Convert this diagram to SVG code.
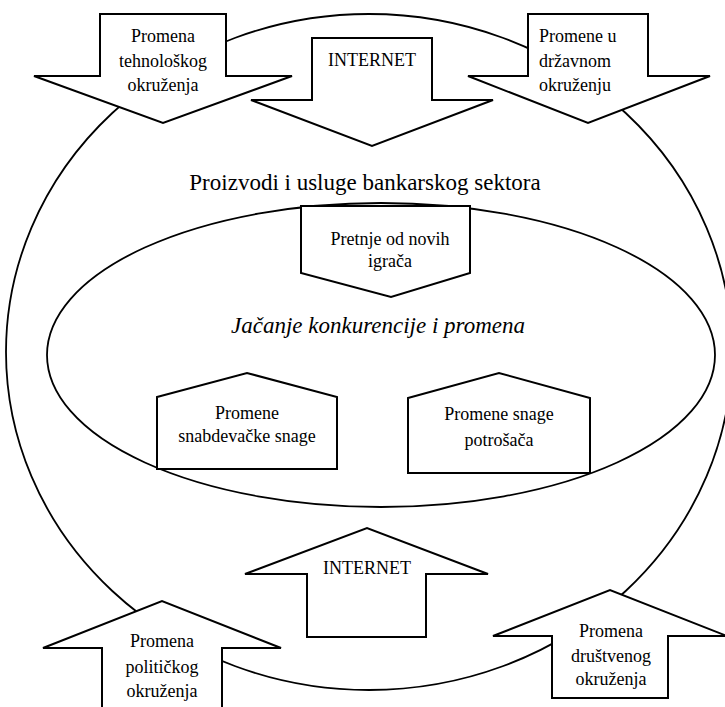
<svg xmlns="http://www.w3.org/2000/svg" width="725" height="707" viewBox="0 0 725 707" font-family="'Liberation Serif', 'Times New Roman', Times, serif">
<style>
.sh{fill:#fff;stroke:#000;stroke-width:2;stroke-linejoin:miter}
.el{fill:none;stroke:#000;stroke-width:1.8}
text{font-family:'Liberation Serif','Times New Roman',Times,serif;font-size:18px;fill:#000}
.c{text-anchor:middle}
.big{font-size:23px}
</style>
<rect width="725" height="707" fill="#fff"/>
<g id="connectors">
<ellipse id="outer" class="el" cx="369" cy="352" rx="363" ry="338"/>
<ellipse id="inner" class="el" cx="381" cy="355" rx="334" ry="152"/>
</g>
<text class="c big" x="365" y="190">Proizvodi i usluge bankarskog sektora</text>
<text class="c big" x="378" y="333" font-style="italic">Jačanje konkurencije i promena</text>
<g id="tehno">
<polygon class="sh" points="100,14 226,14 226,76 292,76 163,123 34,76 100,76"/>
<text class="c" x="163" y="42">Promena</text>
<text class="c" x="163" y="67">tehnološkog</text>
<text class="c" x="163" y="91">okruženja</text>
</g>
<g id="internet-top">
<polygon class="sh" points="312,38 432,38 432,100 493,100 372,146 251,100 312,100"/>
<text class="c" x="372" y="66">INTERNET</text>
</g>
<g id="drzavno">
<polygon class="sh" points="528,14 648,14 648,76 710,76 588,123 468,76 528,76"/>
<text x="539" y="42">Promene u</text>
<text x="539" y="67">državnom</text>
<text x="539" y="91">okruženju</text>
</g>
<g id="pretnje">
<polygon class="sh" points="301,206 470,206 470,273 391,297 301,273"/>
<text class="c" x="390" y="245">Pretnje od novih</text>
<text class="c" x="390" y="267">igrača</text>
</g>
<g id="snabdevacke">
<polygon class="sh" points="157,397 247,373 337,397 337,469 157,469"/>
<text class="c" x="247" y="419">Promene</text>
<text class="c" x="247" y="442">snabdevačke snage</text>
</g>
<g id="potrosaca">
<polygon class="sh" points="408,398 499,373 590,398 590,473 408,473"/>
<text class="c" x="499" y="420">Promene snage</text>
<text class="c" x="499" y="446" font-size="21">potrošača</text>
</g>
<g id="internet-bottom">
<polygon class="sh" points="245,574 367,528 488,574 426,574 426,637 307,637 307,574"/>
<text class="c" x="367" y="574">INTERNET</text>
</g>
<g id="politicko">
<polygon class="sh" points="43,648 162,601 281,648 222,648 222,712 102,712 102,648"/>
<text class="c" x="162" y="647">Promena</text>
<text class="c" x="162" y="673">političkog</text>
<text class="c" x="162" y="697">okruženja</text>
</g>
<g id="drustveno">
<polygon class="sh" points="493,636 610,590 727,636 668,636 668,698 552,698 552,636"/>
<text class="c" x="611" y="637">Promena</text>
<text class="c" x="611" y="662">društvenog</text>
<text class="c" x="611" y="685">okruženja</text>
</g>
</svg>
